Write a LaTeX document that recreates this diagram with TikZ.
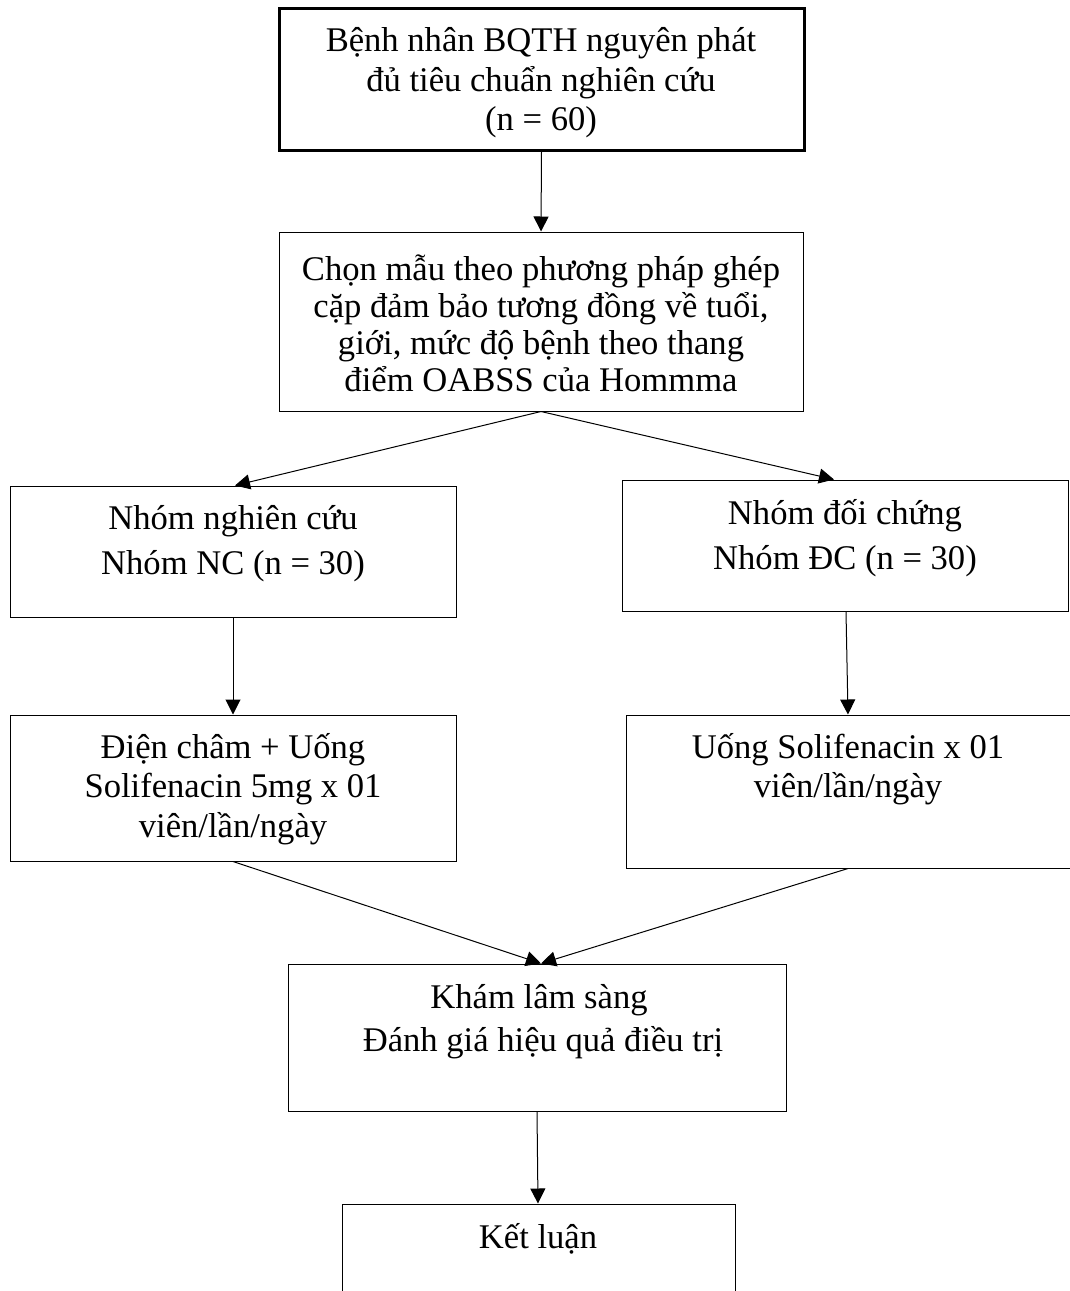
\documentclass[tikz,border=0pt]{standalone}
\usepackage{fontspec}
\setmainfont{Liberation Serif}
\usetikzlibrary{arrows.meta,calc}
\begin{document}
\begin{tikzpicture}[x=1pt,y=-1pt,
  box/.style={draw=black,line width=1pt,inner sep=0pt,rectangle},
  txt/.style={align=center,inner sep=0pt,font=\fontsize{34.6}{#1}\selectfont},
  txt/.default=37,
  arr/.style={line width=1pt,-{Triangle[length=15pt,width=15pt]}}]
\useasboundingbox (0,0) rectangle (1070,1291);
\clip (0,0) rectangle (1070,1291);
\fill[white] (0,0) rectangle (1070,1291);
% boxes
\node[box,line width=3pt,minimum width=525pt,minimum height=142pt] (b1) at (541.5,79) {};
\node[box,minimum width=524pt,minimum height=179pt] (b2) at (541,321.5) {};
\node[box,minimum width=446pt,minimum height=131pt] (b3) at (233,551.5) {};
\node[box,minimum width=446pt,minimum height=131pt] (b4) at (845,545.5) {};
\node[box,minimum width=446pt,minimum height=146pt] (b5) at (233,788) {};
\node[box,minimum width=450pt,minimum height=153pt] (b6) at (851,791.5) {};
\node[box,minimum width=498pt,minimum height=147pt] (b7) at (537,1037.5) {};
\node[box,minimum width=393pt,minimum height=200pt] (b8) at (538.5,1304) {};
% texts
\node[txt=39.5] (t1) at (541,83) {Bệnh nhân BQTH nguyên phát\\đủ tiêu chuẩn nghiên cứu\\(n = 60)};
\node[txt=37] (t2) at (541,323) {Chọn mẫu theo phương pháp ghép\\cặp đảm bảo tương đồng về tuổi,\\giới, mức độ bệnh theo thang\\điểm OABSS của Hommma};
\node[txt=45] (t3) at (233,544) {Nhóm nghiên cứu\\Nhóm NC (n = 30)};
\node[txt=45] (t4) at (845,538) {Nhóm đối chứng\\Nhóm ĐC (n = 30)};
\node[txt=39.5] (t5) at (233,789) {Điện châm + Uống\\Solifenacin 5mg x 01\\viên/lần/ngày};
\node[txt=39.5] (t6) at (848,769) {Uống Solifenacin x 01\\viên/lần/ngày};
\node[txt=43] (t7) at (539,1022) {Khám lâm sàng\\\hspace*{8pt}Đánh giá hiệu quả điều trị};
\node[txt] (t8) at (538,1239) {Kết luận};
% connectors
\draw[arr] (b1.south) -- (b2.north);
\draw[arr] (b2.south) -- ([xshift=2pt]b3.north);
\draw[arr] (b2.south) -- ([xshift=-11pt]b4.north);
\draw[arr] (b3.south) -- (b5.north);
\draw[arr] ([xshift=1pt]b4.south) -- ([xshift=-3pt]b6.north);
\draw[arr] (b5.south) -- ([xshift=4pt]b7.north);
\draw[arr] ([xshift=-3pt]b6.south) -- ([xshift=4pt]b7.north);
\draw[arr] (b7.south) -- ([xshift=-0.5pt]b8.north);
\end{tikzpicture}
\end{document}
